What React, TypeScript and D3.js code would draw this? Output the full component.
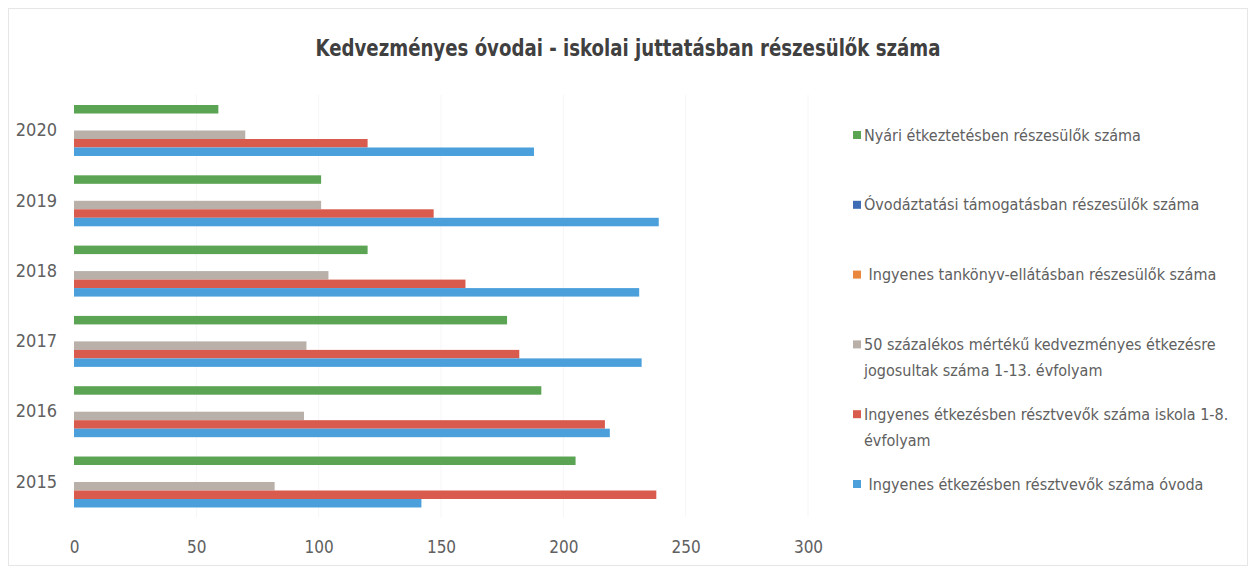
import React, { useRef, useEffect } from 'react';
import * as d3 from 'd3';

// years, bottom to top on the chart
const years = ['2015', '2016', '2017', '2018', '2019', '2020'];

// series values per year (same order as years)
const nyari = [205, 191, 177, 120, 101, 59];
const ovodaztatasi = [0, 0, 0, 0, 0, 0];
const tankonyv = [0, 0, 0, 0, 0, 0];
const otvenSzazalek = [82, 94, 95, 104, 101, 70];
const iskola = [238, 217, 182, 160, 147, 120];
const ovoda = [142, 219, 232, 231, 239, 188];

const seriesNames = [
  ['Nyári étkeztetésben részesülők száma'],
  ['Óvodáztatási támogatásban részesülők száma'],
  [' Ingyenes tankönyv-ellátásban részesülők száma'],
  ['50 százalékos mértékű kedvezményes étkezésre', 'jogosultak száma 1-13. évfolyam'],
  ['Ingyenes étkezésben résztvevők száma iskola 1-8.', 'évfolyam'],
  [' Ingyenes étkezésben résztvevők száma óvoda'],
];
const seriesColors = ['#5ba453', '#3e6db5', '#e9883c', '#b8b0a9', '#d95b4d', '#4ba0dc'];
const seriesValues = [nyari, ovodaztatasi, tankonyv, otvenSzazalek, iskola, ovoda];

const xTicks = [0, 50, 100, 150, 200, 250, 300];
const title = 'Kedvezményes óvodai - iskolai juttatásban részesülők száma';

const FONT = '"Liberation Sans Narrow", "DejaVu Sans Condensed", Lato, sans-serif';

const App = () => {
  const ref = useRef(null);

  useEffect(() => {
    if (!ref.current) return;
    const svg = d3.select(ref.current);
    svg.selectAll('*').remove();

    const width = 1256;
    const height = 571;

    svg
      .append('rect')
      .attr('x', 8.5)
      .attr('y', 8.5)
      .attr('width', width - 17)
      .attr('height', height - 14)
      .attr('fill', '#fff')
      .attr('stroke', '#e6e6e6');

    const x = d3.scaleLinear().domain([0, 300]).range([74, 808]);

    const y = d3
      .scaleBand()
      .domain(years.slice().reverse())
      .range([95.35, 517.15])
      .paddingInner(0.275)
      .paddingOuter(0.1375);

    const keys = d3.range(seriesValues.length);
    const ySub = d3.scaleBand().domain(keys).range([0, y.bandwidth()]).padding(0);

    // faint gridlines
    svg
      .append('g')
      .selectAll('line')
      .data(xTicks.slice(1))
      .enter()
      .append('line')
      .attr('x1', (d) => x(d))
      .attr('x2', (d) => x(d))
      .attr('y1', 95)
      .attr('y2', 517)
      .attr('stroke', '#f6f6f6');

    // title
    svg
      .append('text')
      .attr('x', 628)
      .attr('y', 48)
      .attr('text-anchor', 'middle')
      .attr('dominant-baseline', 'central')
      .attr('font-family', FONT)
      .attr('font-weight', 'bold')
      .attr('font-size', 23)
      .attr('fill', '#404040')
      .attr('textLength', 625)
      .attr('lengthAdjust', 'spacingAndGlyphs')
      .text(title);

    // bars
    const groups = svg
      .append('g')
      .selectAll('g')
      .data(years)
      .enter()
      .append('g')
      .attr('transform', (d) => `translate(0, ${y(d)})`);

    groups
      .selectAll('rect')
      .data((d, i) => keys.map((k) => ({ k, v: seriesValues[k][i] })))
      .enter()
      .append('rect')
      .attr('x', x(0))
      .attr('y', (d) => ySub(d.k))
      .attr('height', ySub.bandwidth())
      .attr('width', (d) => x(d.v) - x(0))
      .attr('fill', (d) => seriesColors[d.k]);

    // axes (labels only, like the original)
    const yAxis = svg
      .append('g')
      .attr('transform', 'translate(57, 0)')
      .call(d3.axisLeft(y).tickSize(0).tickPadding(0));
    yAxis.select('.domain').remove();
    yAxis
      .selectAll('text')
      .attr('font-family', FONT)
      .attr('font-size', 18)
      .attr('fill', '#606060');

    const xAxis = svg
      .append('g')
      .attr('transform', 'translate(0, 541)')
      .call(d3.axisBottom(x).tickValues(xTicks).tickSize(0).tickPadding(0));
    xAxis.select('.domain').remove();
    xAxis
      .selectAll('text')
      .attr('font-family', FONT)
      .attr('font-size', 17)
      .attr('fill', '#606060');

    // legend
    const legend = svg
      .append('g')
      .selectAll('g')
      .data(keys)
      .enter()
      .append('g')
      .attr('transform', (d) => `translate(853, ${135 + d * 69.8})`);

    legend
      .append('rect')
      .attr('x', 0)
      .attr('y', -4)
      .attr('width', 8)
      .attr('height', 8)
      .attr('fill', (d) => seriesColors[d]);

    legend
      .append('text')
      .attr('font-family', FONT)
      .attr('font-size', 16)
      .attr('fill', '#606060')
      .selectAll('tspan')
      .data((d) => seriesNames[d])
      .enter()
      .append('tspan')
      .attr('x', 11)
      .attr('y', (d, i) => i * 26)
      .attr('dy', '0.35em')
      .style('white-space', 'pre')
      .text((d) => d);
  }, []);

  return (
    <svg
      ref={ref}
      width={1256}
      height={571}
      style={{ position: 'absolute', left: 0, top: 0, background: '#fff' }}
    />
  );
};

export default App;
